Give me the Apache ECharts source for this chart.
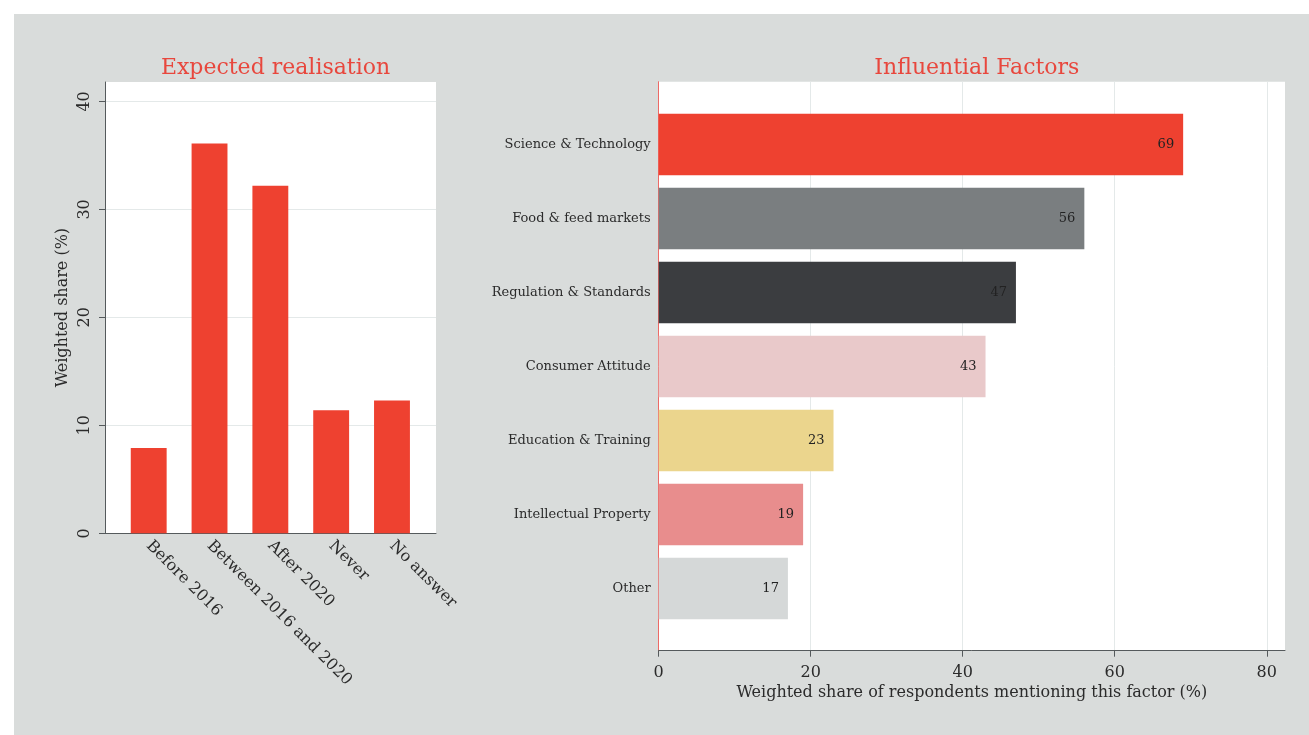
<!DOCTYPE html>
<html>
<head>
<meta charset="utf-8">
<title>Expected realisation and influential factors</title>
<script src="https://cdn.jsdelivr.net/npm/echarts@6/dist/echarts.min.js"></script>
<style>
  html, body { margin: 0; padding: 0; background: #ffffff; }
  #chart { position: absolute; left: 14px; top: 14px; width: 1295px; height: 721px; }
</style>
</head>
<body>
<div id="chart"></div>
<script>
// Left panel: expected time of realisation
const timingCategories = ['Before 2016', 'Between 2016 and 2020', 'After 2020', 'Never', 'No answer'];
const timingShares = [7.9, 36.1, 32.2, 11.4, 12.3];

// Right panel: factors mentioned by respondents
const factorCategories = [
  'Science & Technology', 'Food & feed markets', 'Regulation & Standards',
  'Consumer Attitude', 'Education & Training', 'Intellectual Property', 'Other'
];
const factorShares = [69, 56, 47, 43, 23, 19, 17];

// One colour per factor bar
const factorColors = ['#ee4130', '#7a7e80', '#3b3d40', '#e9c9ca', '#ebd58d', '#e88d8d', '#d5d8d8'];

const FONT = 'DejaVu Serif';
const TEXT = '#2b2b2b';
const RED = '#ee4130';
const TITLE_RED = '#e8473d';
const GRID_LINE = '#e4e9e9';
const AXIS_DARK = '#555a5c';

// Plot regions carry a little headroom beyond the last labelled tick
const LEFT_MAX = 41.8;   // panel top on the left value scale
const RIGHT_MAX = 82.4;  // panel right edge on the right value scale

const leftPanel = { left: 91, top: 68, width: 331, height: 451.3 };
const rightPanel = { left: 644.7, top: 67.7, width: 626.3, height: 569 };
const leftScaleTop = leftPanel.top + leftPanel.height * (1 - 40 / LEFT_MAX);
const rightScaleWidth = rightPanel.width * 80 / RIGHT_MAX;

const off = () => ({ show: false });

const chart = echarts.init(document.getElementById('chart'));

const option = {
  backgroundColor: '#d9dcdb',
  animation: false,
  textStyle: { fontFamily: FONT, color: TEXT },
  title: [
    { text: 'Expected realisation', left: leftPanel.left + leftPanel.width / 2, top: 38, textAlign: 'center',
      textStyle: { fontFamily: FONT, fontSize: 22, fontWeight: 'normal', color: TITLE_RED } },
    { text: 'Influential Factors', left: rightPanel.left + rightPanel.width / 2, top: 38, textAlign: 'center',
      textStyle: { fontFamily: FONT, fontSize: 22, fontWeight: 'normal', color: TITLE_RED } }
  ],
  grid: [
    // 0: left white panel with its axis lines
    Object.assign({ show: true, backgroundColor: '#ffffff', borderWidth: 0, z: -1 }, leftPanel),
    // 1: left bars, inset inside the panel
    { left: 104.3, top: leftPanel.top, width: 304.1, height: leftPanel.height },
    // 2: right white panel with its axis lines
    Object.assign({ show: true, backgroundColor: '#ffffff', borderWidth: 0, z: -1 }, rightPanel),
    // 3: right bars, inset vertically
    { left: rightPanel.left, top: 93.5, width: rightPanel.width, height: 518 },
    // 4: left tick scale 0..40
    { left: leftPanel.left, top: leftScaleTop, width: leftPanel.width,
      height: leftPanel.top + leftPanel.height - leftScaleTop },
    // 5: right tick scale 0..80
    { left: rightPanel.left, top: rightPanel.top, width: rightScaleWidth, height: rightPanel.height }
  ],
  xAxis: [
    { gridIndex: 0, type: 'category', data: timingCategories,
      axisLine: { show: true, lineStyle: { color: AXIS_DARK, width: 1 } },
      axisTick: off(), axisLabel: off(), splitLine: off() },
    { gridIndex: 1, type: 'category', data: timingCategories,
      axisLine: off(), axisTick: off(),
      axisLabel: { rotate: -45, margin: 10, fontFamily: FONT, fontSize: 16, color: TEXT, interval: 0 } },
    { gridIndex: 2, type: 'value', min: 0, max: RIGHT_MAX,
      axisLine: { show: true, lineStyle: { color: AXIS_DARK, width: 1 } },
      axisTick: off(), axisLabel: off(), splitLine: off(),
      name: 'Weighted share of respondents mentioning this factor (%)',
      nameLocation: 'middle', nameGap: 34,
      nameTextStyle: { fontFamily: FONT, fontSize: 16, color: TEXT } },
    { gridIndex: 3, type: 'value', min: 0, max: RIGHT_MAX, show: false },
    { gridIndex: 4, type: 'value', min: 0, max: 1, show: false },
    { gridIndex: 5, type: 'value', min: 0, max: 80, interval: 20,
      axisLine: off(),
      axisTick: { show: true, length: 6, lineStyle: { color: AXIS_DARK } },
      axisLabel: { fontFamily: FONT, fontSize: 16, color: TEXT, margin: 14 },
      splitLine: { show: true, lineStyle: { color: GRID_LINE, width: 1 } } }
  ],
  yAxis: [
    { gridIndex: 0, type: 'value', min: 0, max: LEFT_MAX,
      axisLine: { show: true, lineStyle: { color: AXIS_DARK, width: 1 } },
      axisTick: off(), axisLabel: off(), splitLine: off(),
      name: 'Weighted share (%)', nameLocation: 'middle', nameRotate: 90, nameGap: 34,
      nameTextStyle: { fontFamily: FONT, fontSize: 16, color: TEXT } },
    { gridIndex: 1, type: 'value', min: 0, max: LEFT_MAX, show: false },
    { gridIndex: 2, type: 'category', data: factorCategories, inverse: true,
      axisLine: { show: true, lineStyle: { color: '#ec6a66', width: 1 } },
      axisTick: off(), axisLabel: off(), splitLine: off() },
    { gridIndex: 3, type: 'category', data: factorCategories, inverse: true,
      axisLine: off(), axisTick: off(),
      axisLabel: { fontFamily: FONT, fontSize: 13, color: TEXT, margin: 8 } },
    { gridIndex: 4, type: 'value', min: 0, max: 40, interval: 10,
      axisLine: off(),
      axisTick: { show: true, length: 6, lineStyle: { color: AXIS_DARK } },
      axisLabel: { rotate: 90, margin: 12, fontFamily: FONT, fontSize: 16, color: TEXT },
      splitLine: { show: true, lineStyle: { color: GRID_LINE, width: 1 } } },
    { gridIndex: 5, type: 'value', min: 0, max: 1, show: false }
  ],
  series: [
    { name: 'Expected realisation', type: 'bar', xAxisIndex: 1, yAxisIndex: 1,
      data: timingShares, barCategoryGap: '41%',
      itemStyle: { color: RED } },
    { name: 'Influential Factors', type: 'bar', xAxisIndex: 3, yAxisIndex: 3,
      data: factorShares.map((v, i) => ({ value: v, itemStyle: { color: factorColors[i] } })),
      barCategoryGap: '17%',
      label: { show: true, position: 'insideRight', distance: 9,
               fontFamily: FONT, fontSize: 13, color: '#222222' } }
  ]
};

chart.setOption(option);
</script>
</body>
</html>
